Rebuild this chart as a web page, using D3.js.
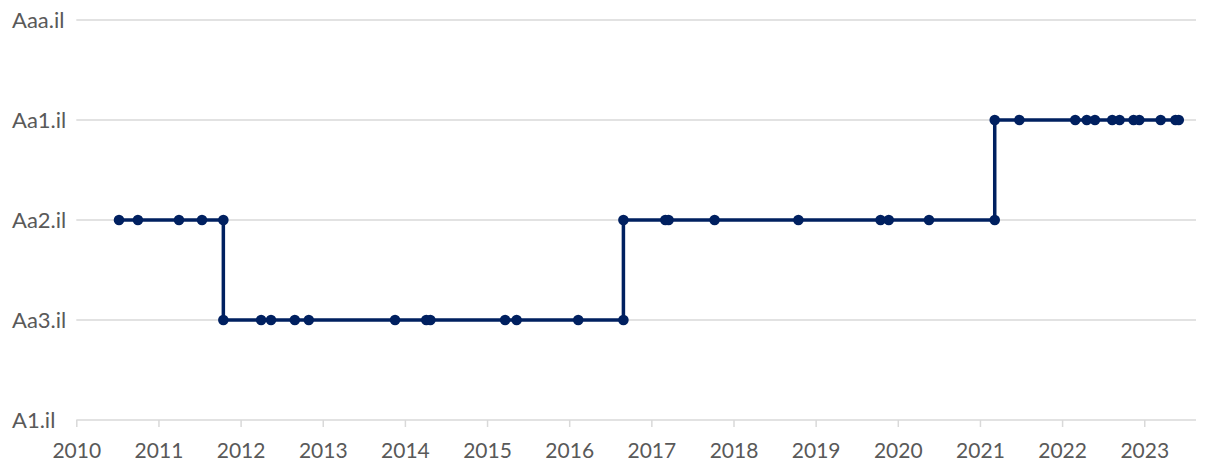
<!DOCTYPE html>
<html>
<head>
<meta charset="utf-8">
<script src="https://cdn.jsdelivr.net/npm/d3@7"></script>
<style>
  html, body { margin: 0; padding: 0; background: #ffffff; }
  svg { display: block; }
  text { font-family: Lato, "Open Sans", sans-serif; fill: #595959; }
</style>
</head>
<body>
<svg id="chart" width="1208" height="461"></svg>
<script>
// Rating scale categories (bottom to top)
const ratingCategories = ["A1.il", "Aa3.il", "Aa2.il", "Aa1.il", "Aaa.il"];
// X tick labels (years)
const yearTicks = [2010, 2011, 2012, 2013, 2014, 2015, 2016, 2017, 2018, 2019, 2020, 2021, 2022, 2023];
// Rating action dates (decimal years)
const dates = [2010.52, 2010.75, 2011.25, 2011.53, 2011.79, 2011.79, 2012.25, 2012.37, 2012.66, 2012.83,
  2013.88, 2014.26, 2014.31, 2015.22, 2015.36, 2016.11, 2016.66, 2016.66, 2017.17, 2017.21,
  2017.77, 2018.79, 2019.79, 2019.89, 2020.38, 2021.18, 2021.18, 2021.48, 2022.16, 2022.30,
  2022.40, 2022.61, 2022.70, 2022.87, 2022.94, 2023.20, 2023.38, 2023.42];
// Rating at each date
const ratings = ["Aa2.il", "Aa2.il", "Aa2.il", "Aa2.il", "Aa2.il", "Aa3.il", "Aa3.il", "Aa3.il", "Aa3.il", "Aa3.il",
  "Aa3.il", "Aa3.il", "Aa3.il", "Aa3.il", "Aa3.il", "Aa3.il", "Aa3.il", "Aa2.il", "Aa2.il", "Aa2.il",
  "Aa2.il", "Aa2.il", "Aa2.il", "Aa2.il", "Aa2.il", "Aa2.il", "Aa1.il", "Aa1.il", "Aa1.il", "Aa1.il",
  "Aa1.il", "Aa1.il", "Aa1.il", "Aa1.il", "Aa1.il", "Aa1.il", "Aa1.il", "Aa1.il"];

const data = dates.map((d, i) => ({ date: d, rating: ratings[i] }));

const svg = d3.select("#chart");
const x = d3.scaleLinear().domain([2010, 2023.63]).range([76.3, 1196]);
const y = d3.scalePoint().domain(ratingCategories).range([420, 20]);

const color = "#002060";
const gridColor = "#d9d9d9";

// Gridlines
svg.append("g")
  .selectAll("line")
  .data(ratingCategories)
  .join("line")
  .attr("x1", x.range()[0]).attr("x2", x.range()[1])
  .attr("y1", d => y(d)).attr("y2", d => y(d))
  .attr("stroke", gridColor).attr("stroke-width", 1.5);

// Y labels
svg.append("g")
  .selectAll("text")
  .data(ratingCategories)
  .join("text")
  .attr("x", 12)
  .attr("y", d => y(d) + 8)
  .attr("font-size", 22)
  .text(d => d);

// X axis
const xAxis = d3.axisBottom(x)
  .tickValues(yearTicks)
  .tickFormat(d3.format("d"))
  .tickSize(7)
  .tickPadding(10);
const gx = svg.append("g").attr("transform", "translate(0,420)").call(xAxis);
gx.select(".domain").remove();
gx.selectAll(".tick line").attr("stroke", gridColor).attr("stroke-width", 1.5);
gx.selectAll(".tick text")
  .attr("font-size", 21)
  .attr("font-family", "Lato, 'Open Sans', sans-serif")
  .attr("fill", "#595959")
  .attr("dy", null)
  .attr("y", 38);

// Line
const line = d3.line().x(d => x(d.date)).y(d => y(d.rating));
svg.append("path")
  .datum(data)
  .attr("d", line)
  .attr("fill", "none")
  .attr("stroke", color)
  .attr("stroke-width", 3.5)
  .attr("stroke-linejoin", "round");

// Markers
svg.append("g")
  .selectAll("circle")
  .data(data)
  .join("circle")
  .attr("cx", d => x(d.date))
  .attr("cy", d => y(d.rating))
  .attr("r", 5.3)
  .attr("fill", color);
</script>
</body>
</html>
